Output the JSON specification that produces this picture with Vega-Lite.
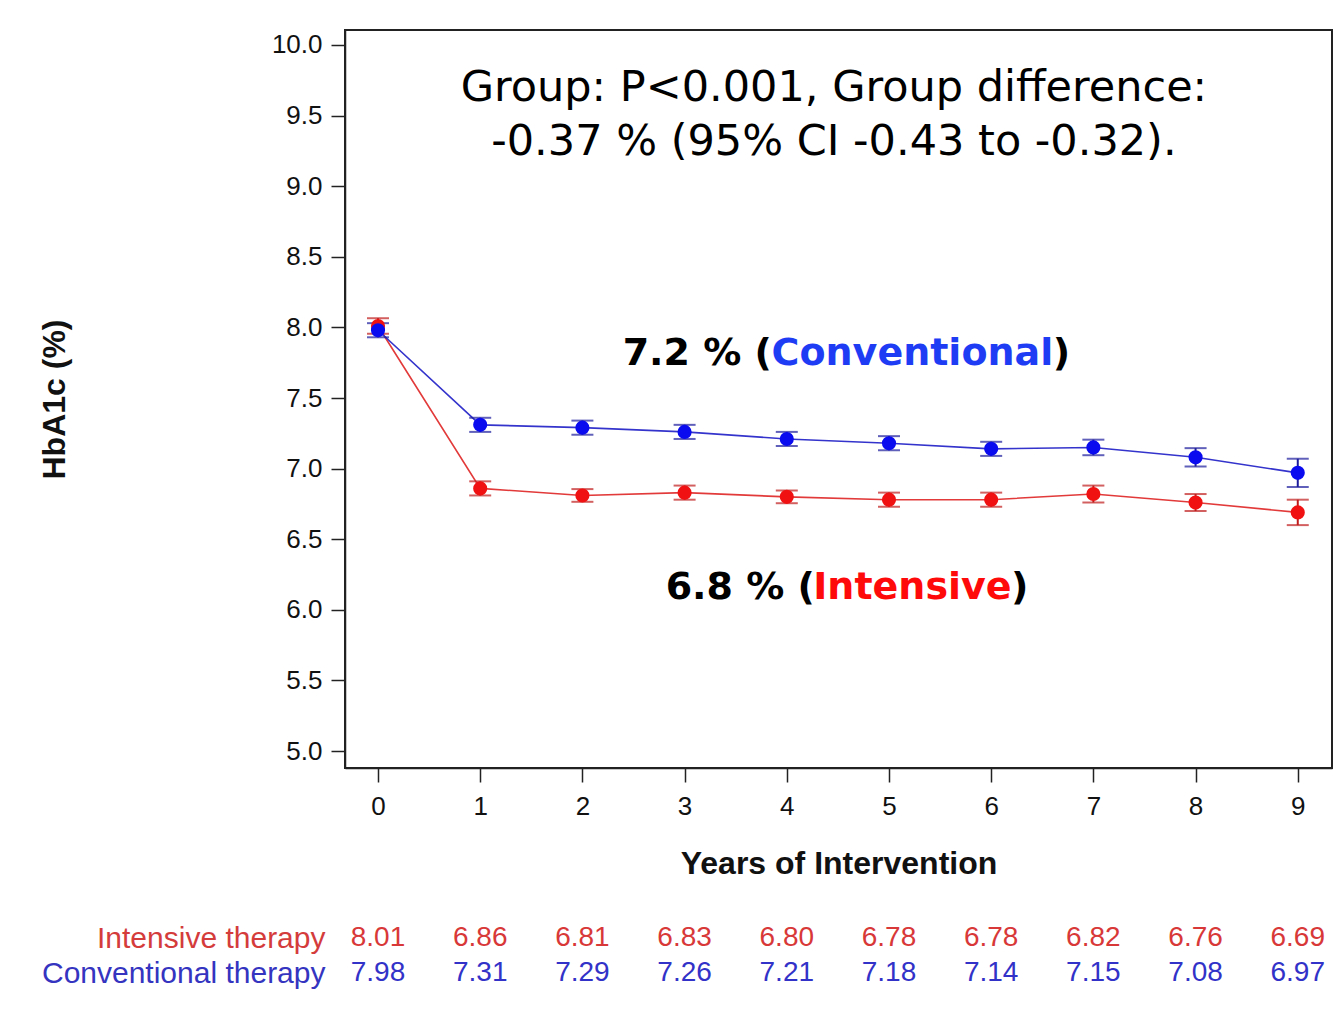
{
  "$schema": "https://vega.github.io/schema/vega-lite/v6.json",
  "background": "white",
  "padding": {"left": 37, "top": 29, "right": 2, "bottom": 0},
  "spacing": 23,
  "config": {
    "font": "Liberation Sans",
    "axis": {"grid": false, "domainColor": "#222", "tickColor": "#222", "labelColor": "#111", "titleColor": "#111", "domainWidth": 1.5, "tickWidth": 1.5}
  },
  "datasets": {
    "hba1c": [
      {"year": 0, "group": "Intensive therapy", "mean": 8.01, "lo": 7.955, "hi": 8.065},
      {"year": 1, "group": "Intensive therapy", "mean": 6.86, "lo": 6.81, "hi": 6.91},
      {"year": 2, "group": "Intensive therapy", "mean": 6.81, "lo": 6.765, "hi": 6.855},
      {"year": 3, "group": "Intensive therapy", "mean": 6.83, "lo": 6.78, "hi": 6.88},
      {"year": 4, "group": "Intensive therapy", "mean": 6.80, "lo": 6.755, "hi": 6.845},
      {"year": 5, "group": "Intensive therapy", "mean": 6.78, "lo": 6.73, "hi": 6.83},
      {"year": 6, "group": "Intensive therapy", "mean": 6.78, "lo": 6.73, "hi": 6.83},
      {"year": 7, "group": "Intensive therapy", "mean": 6.82, "lo": 6.76, "hi": 6.88},
      {"year": 8, "group": "Intensive therapy", "mean": 6.76, "lo": 6.70, "hi": 6.82},
      {"year": 9, "group": "Intensive therapy", "mean": 6.69, "lo": 6.60, "hi": 6.78},
      {"year": 0, "group": "Conventional therapy", "mean": 7.98, "lo": 7.93, "hi": 8.03},
      {"year": 1, "group": "Conventional therapy", "mean": 7.31, "lo": 7.26, "hi": 7.36},
      {"year": 2, "group": "Conventional therapy", "mean": 7.29, "lo": 7.24, "hi": 7.34},
      {"year": 3, "group": "Conventional therapy", "mean": 7.26, "lo": 7.21, "hi": 7.31},
      {"year": 4, "group": "Conventional therapy", "mean": 7.21, "lo": 7.16, "hi": 7.26},
      {"year": 5, "group": "Conventional therapy", "mean": 7.18, "lo": 7.13, "hi": 7.23},
      {"year": 6, "group": "Conventional therapy", "mean": 7.14, "lo": 7.09, "hi": 7.19},
      {"year": 7, "group": "Conventional therapy", "mean": 7.15, "lo": 7.095, "hi": 7.205},
      {"year": 8, "group": "Conventional therapy", "mean": 7.08, "lo": 7.015, "hi": 7.145},
      {"year": 9, "group": "Conventional therapy", "mean": 6.97, "lo": 6.87, "hi": 7.07}
    ],
    "notes": [
      {"x": 4.461, "y": 9.695, "label": "Group: P<0.001, Group difference:"},
      {"x": 4.461, "y": 9.313, "label": "-0.37 % (95% CI -0.43 to -0.32)."}
    ],
    "callouts": [
      {"x": 3.854, "y": 7.812, "label": "7.2 % (", "tone": "black", "pos": "right"},
      {"x": 5.229, "y": 7.812, "label": "Conventional", "tone": "blue", "pos": "center"},
      {"x": 6.603, "y": 7.812, "label": ")", "tone": "black", "pos": "left"},
      {"x": 4.275, "y": 6.155, "label": "6.8 % (", "tone": "black", "pos": "right"},
      {"x": 5.229, "y": 6.155, "label": "Intensive", "tone": "red", "pos": "center"},
      {"x": 6.193, "y": 6.155, "label": ")", "tone": "black", "pos": "left"}
    ]
  },
  "resolve": {"scale": {"x": "independent", "y": "independent", "color": "independent"}},
  "vconcat": [
    {
      "width": 987,
      "height": 738,
      "view": {"stroke": "#222", "strokeWidth": 2},
      "encoding": {
        "x": {"field": "year", "type": "quantitative",
              "scale": {"domain": [-0.323, 9.335], "nice": false, "zero": false},
              "axis": {"values": [0,1,2,3,4,5,6,7,8,9], "format": "d", "tickSize": 14, "labelFontSize": 26, "labelPadding": 11,
                       "title": "Years of Intervention", "titleFontSize": 32, "titleFontWeight": "bold", "titlePadding": 29}},
        "y": {"field": "mean", "type": "quantitative",
              "scale": {"domain": [4.88, 10.106], "nice": false, "zero": false},
              "axis": {"values": [5,5.5,6,6.5,7,7.5,8,8.5,9,9.5,10], "format": ".1f", "tickSize": 14, "labelFontSize": 26, "labelPadding": 9,
                       "title": "HbA1c (%)", "titleFontSize": 32, "titleFontWeight": "bold", "titlePadding": 200}}
      },
      "layer": [
        {
          "data": {"name": "hba1c"},
          "transform": [{"filter": "datum.group === 'Intensive therapy'"}],
          "mark": {"type": "line", "strokeWidth": 1.6, "color": "#e23a3a"}
        },
        {
          "data": {"name": "hba1c"},
          "transform": [{"filter": "datum.group === 'Conventional therapy'"}],
          "mark": {"type": "line", "strokeWidth": 1.6, "color": "#3434cc"}
        },
        {
          "data": {"name": "hba1c"},
          "transform": [{"filter": "datum.group === 'Intensive therapy'"}],
          "mark": {"type": "errorbar", "ticks": {"size": 22, "thickness": 2}, "thickness": 2, "color": "#c01c1c"},
          "encoding": {
            "y": {"field": "lo", "type": "quantitative", "title": "HbA1c (%)"},
            "y2": {"field": "hi"}
          }
        },
        {
          "data": {"name": "hba1c"},
          "transform": [{"filter": "datum.group === 'Conventional therapy'"}],
          "mark": {"type": "errorbar", "ticks": {"size": 22, "thickness": 2}, "thickness": 2, "color": "#1c1c9c"},
          "encoding": {
            "y": {"field": "lo", "type": "quantitative", "title": "HbA1c (%)"},
            "y2": {"field": "hi"}
          }
        },
        {
          "data": {"name": "hba1c"},
          "transform": [{"filter": "datum.group === 'Intensive therapy'"}],
          "mark": {"type": "point", "filled": true, "opacity": 1, "size": 200, "color": "#f01212"}
        },
        {
          "data": {"name": "hba1c"},
          "transform": [{"filter": "datum.group === 'Conventional therapy'"}],
          "mark": {"type": "point", "filled": true, "opacity": 1, "size": 200, "color": "#0b0bef"}
        },
        {
          "data": {"name": "notes"},
          "mark": {"type": "text", "font": "DejaVu Sans", "fontSize": 43, "color": "#000", "baseline": "middle", "align": "center"},
          "encoding": {
            "x": {"field": "x", "type": "quantitative", "title": "Years of Intervention"},
            "y": {"field": "y", "type": "quantitative", "title": "HbA1c (%)"},
            "text": {"field": "label"}
          }
        },
        {
          "data": {"name": "callouts"},
          "transform": [{"filter": "datum.pos === 'right'"}],
          "mark": {"type": "text", "font": "DejaVu Sans", "fontSize": 38, "fontWeight": "bold", "baseline": "middle", "align": "right", "color": "#000"},
          "encoding": {
            "x": {"field": "x", "type": "quantitative", "title": "Years of Intervention"},
            "y": {"field": "y", "type": "quantitative", "title": "HbA1c (%)"},
            "text": {"field": "label"}
          }
        },
        {
          "data": {"name": "callouts"},
          "transform": [{"filter": "datum.pos === 'left'"}],
          "mark": {"type": "text", "font": "DejaVu Sans", "fontSize": 38, "fontWeight": "bold", "baseline": "middle", "align": "left", "color": "#000"},
          "encoding": {
            "x": {"field": "x", "type": "quantitative", "title": "Years of Intervention"},
            "y": {"field": "y", "type": "quantitative", "title": "HbA1c (%)"},
            "text": {"field": "label"}
          }
        },
        {
          "data": {"name": "callouts"},
          "transform": [{"filter": "datum.tone === 'blue'"}],
          "mark": {"type": "text", "font": "DejaVu Sans", "fontSize": 38, "fontWeight": "bold", "baseline": "middle", "align": "center", "color": "#1f3cf5"},
          "encoding": {
            "x": {"field": "x", "type": "quantitative", "title": "Years of Intervention"},
            "y": {"field": "y", "type": "quantitative", "title": "HbA1c (%)"},
            "text": {"field": "label"}
          }
        },
        {
          "data": {"name": "callouts"},
          "transform": [{"filter": "datum.tone === 'red'"}],
          "mark": {"type": "text", "font": "DejaVu Sans", "fontSize": 38, "fontWeight": "bold", "baseline": "middle", "align": "center", "color": "#ff0a0a"},
          "encoding": {
            "x": {"field": "x", "type": "quantitative", "title": "Years of Intervention"},
            "y": {"field": "y", "type": "quantitative", "title": "HbA1c (%)"},
            "text": {"field": "label"}
          }
        }
      ]
    },
    {
      "width": 987,
      "height": 105,
      "view": {"stroke": null},
      "data": {"name": "hba1c"},
      "mark": {"type": "text", "fontSize": 28, "baseline": "middle", "align": "center"},
      "encoding": {
        "x": {"field": "year", "type": "quantitative", "scale": {"domain": [-0.323, 9.335], "nice": false, "zero": false}, "axis": null},
        "y": {"field": "group", "type": "nominal",
              "scale": {"domain": ["Intensive therapy", "Conventional therapy"], "padding": 1},
              "axis": {"title": null, "domain": false, "ticks": false, "labelFontSize": 30, "labelPadding": 20, "labelLimit": 500,
                       "labelColor": {"expr": "datum.value === 'Intensive therapy' ? '#d43c3c' : '#3434c0'"}}},
        "text": {"field": "mean", "type": "quantitative", "format": ".2f"},
        "color": {"field": "group", "type": "nominal",
                  "scale": {"domain": ["Intensive therapy", "Conventional therapy"], "range": ["#d83838", "#3232c8"]},
                  "legend": null}
      }
    }
  ]
}
